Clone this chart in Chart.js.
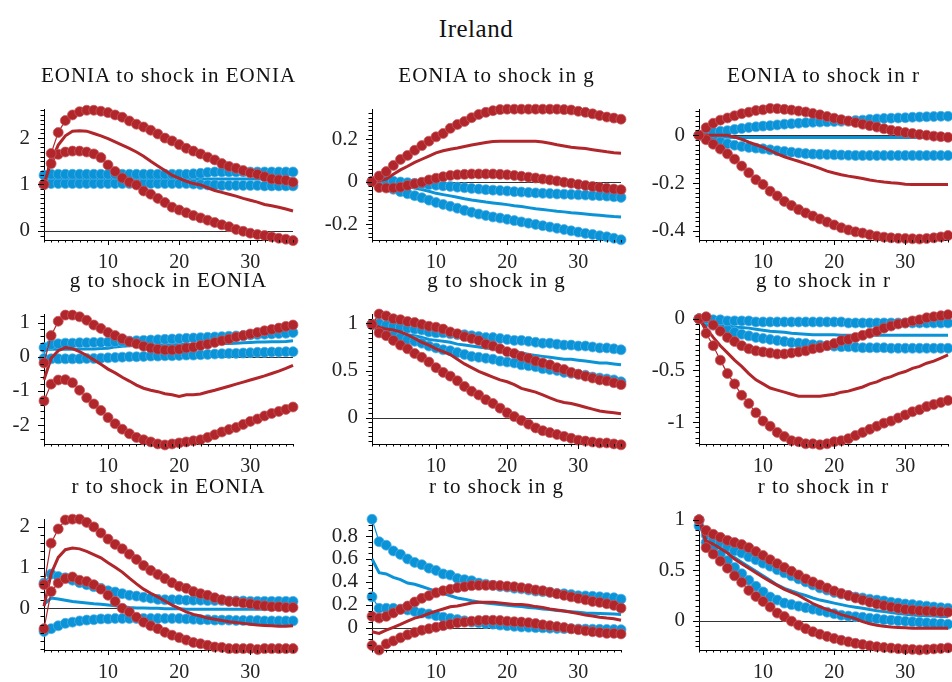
<!DOCTYPE html>
<html><head><meta charset="utf-8">
<script src="https://cdn.jsdelivr.net/npm/chart.js@4.4.1/dist/chart.umd.min.js"></script>
<style>
html,body{margin:0;padding:0;background:#fff;}
body{width:952px;height:682px;position:relative;overflow:hidden;font-family:'Liberation Serif',serif;color:#111;}
canvas{position:absolute;}
.ttl{position:absolute;width:320px;text-align:center;font-size:21px;line-height:26px;letter-spacing:1px;white-space:nowrap;z-index:2;}
#main{position:absolute;left:0;top:14px;width:952px;text-align:center;font-size:25px;line-height:30px;letter-spacing:0.5px;}
</style></head><body>
<div id="main">Ireland</div>
<script>
// ---------- data ----------
const horizon = [1,2,3,4,5,6,7,8,9,10,11,12,13,14,15,16,17,18,19,20,21,22,23,24,25,26,27,28,29,30,31,32,33,34,35,36];
const xTickLabels = [10,20,30];
const panelTitles = ['EONIA to shock in EONIA','EONIA to shock in g','EONIA to shock in r',
  'g to shock in EONIA','g to shock in g','g to shock in r',
  'r to shock in EONIA','r to shock in g','r to shock in r'];
const yTickLabels = [[0,1,2],[-0.2,0,0.2],[-0.4,-0.2,0],[-2,-1,0,1],[0,0.5,1],[-1,-0.5,0],[0,1,2],[0,0.2,0.4,0.6,0.8],[0,0.5,1]];

// EONIA to shock in EONIA
const eoEo_redHi  = [1.00,1.67,2.12,2.38,2.50,2.57,2.60,2.60,2.58,2.55,2.50,2.45,2.37,2.30,2.24,2.17,2.09,2.00,1.94,1.86,1.78,1.72,1.66,1.59,1.53,1.45,1.39,1.35,1.30,1.25,1.22,1.17,1.12,1.10,1.09,1.05];
const eoEo_redMed = [1.00,1.50,1.85,2.05,2.15,2.16,2.15,2.10,2.05,1.99,1.92,1.85,1.78,1.70,1.61,1.50,1.40,1.30,1.20,1.13,1.07,1.02,0.99,0.93,0.87,0.83,0.79,0.75,0.70,0.66,0.62,0.57,0.54,0.51,0.47,0.43];
const eoEo_redLo  = [1.00,1.45,1.65,1.70,1.72,1.72,1.70,1.66,1.58,1.42,1.28,1.14,1.05,0.99,0.86,0.79,0.70,0.61,0.51,0.45,0.39,0.33,0.28,0.23,0.18,0.13,0.09,0.03,-0.01,-0.05,-0.08,-0.10,-0.13,-0.16,-0.18,-0.21];
const eoEo_blueHi  = [1.20,1.22,1.22,1.22,1.22,1.22,1.22,1.22,1.22,1.22,1.22,1.22,1.22,1.22,1.22,1.22,1.22,1.22,1.22,1.22,1.22,1.23,1.24,1.26,1.27,1.27,1.27,1.27,1.27,1.27,1.27,1.27,1.27,1.27,1.27,1.27];
const eoEo_blueMed = [1.10,1.11,1.11,1.11,1.11,1.11,1.11,1.11,1.11,1.11,1.12,1.12,1.12,1.12,1.12,1.12,1.12,1.12,1.12,1.12,1.12,1.12,1.12,1.12,1.12,1.12,1.12,1.12,1.12,1.12,1.12,1.12,1.12,1.12,1.12,1.12];
const eoEo_blueLo  = [1.00,1.02,1.02,1.02,1.02,1.02,1.02,1.02,1.02,1.02,1.02,1.02,1.02,1.02,1.02,1.02,1.02,1.02,1.02,1.02,1.02,1.01,1.00,0.99,0.99,0.98,0.98,0.98,0.98,0.98,0.98,0.97,0.97,0.97,0.97,0.97];

// EONIA to shock in g
const eoG_redHi  = [0.000,0.026,0.047,0.076,0.104,0.123,0.147,0.169,0.190,0.210,0.226,0.250,0.268,0.282,0.300,0.315,0.325,0.333,0.338,0.340,0.340,0.340,0.340,0.340,0.340,0.340,0.340,0.338,0.336,0.330,0.325,0.318,0.310,0.303,0.298,0.293];
const eoG_redMed = [0.000,0.005,0.012,0.035,0.055,0.072,0.090,0.105,0.120,0.135,0.145,0.152,0.158,0.165,0.172,0.178,0.184,0.188,0.189,0.189,0.189,0.189,0.189,0.189,0.186,0.180,0.173,0.167,0.161,0.158,0.155,0.150,0.145,0.140,0.136,0.133];
const eoG_redLo  = [0.000,-0.028,-0.030,-0.030,-0.026,-0.018,-0.010,-0.003,0.008,0.016,0.023,0.029,0.032,0.034,0.036,0.036,0.036,0.036,0.034,0.032,0.029,0.025,0.021,0.017,0.012,0.008,0.003,-0.003,-0.008,-0.013,-0.018,-0.023,-0.027,-0.031,-0.035,-0.038];
const eoG_blueHi  = [0.000,0.004,0.005,0.002,-0.002,-0.005,-0.008,-0.011,-0.014,-0.017,-0.020,-0.023,-0.026,-0.029,-0.032,-0.035,-0.038,-0.040,-0.042,-0.044,-0.047,-0.049,-0.051,-0.053,-0.055,-0.056,-0.058,-0.059,-0.060,-0.062,-0.063,-0.065,-0.066,-0.068,-0.071,-0.074];
const eoG_blueMed = [0.000,-0.003,-0.008,-0.013,-0.018,-0.024,-0.030,-0.037,-0.045,-0.055,-0.061,-0.067,-0.073,-0.080,-0.086,-0.091,-0.096,-0.100,-0.104,-0.108,-0.113,-0.117,-0.122,-0.127,-0.131,-0.135,-0.139,-0.142,-0.146,-0.149,-0.152,-0.155,-0.158,-0.161,-0.164,-0.166];
const eoG_blueLo  = [0.000,-0.012,-0.024,-0.036,-0.047,-0.057,-0.066,-0.076,-0.087,-0.098,-0.107,-0.116,-0.125,-0.135,-0.144,-0.152,-0.159,-0.166,-0.171,-0.177,-0.183,-0.189,-0.195,-0.201,-0.207,-0.213,-0.219,-0.225,-0.231,-0.237,-0.243,-0.248,-0.254,-0.259,-0.266,-0.273];

// EONIA to shock in r
const eoR_redHi  = [0.000,0.031,0.050,0.063,0.072,0.081,0.090,0.096,0.103,0.106,0.112,0.111,0.108,0.105,0.101,0.097,0.091,0.085,0.078,0.071,0.065,0.059,0.053,0.046,0.040,0.034,0.027,0.021,0.016,0.011,0.007,0.003,0.000,-0.004,-0.006,-0.009];
const eoR_redMed = [0.000,0.000,0.000,0.000,0.000,-0.008,-0.017,-0.029,-0.040,-0.050,-0.064,-0.078,-0.090,-0.100,-0.109,-0.119,-0.128,-0.139,-0.150,-0.158,-0.165,-0.171,-0.176,-0.181,-0.187,-0.192,-0.196,-0.199,-0.201,-0.205,-0.206,-0.206,-0.206,-0.206,-0.206,-0.206];
const eoR_redLo  = [0.000,-0.019,-0.038,-0.058,-0.078,-0.100,-0.129,-0.157,-0.186,-0.206,-0.234,-0.254,-0.277,-0.294,-0.311,-0.325,-0.338,-0.350,-0.363,-0.375,-0.387,-0.396,-0.404,-0.409,-0.416,-0.422,-0.426,-0.429,-0.431,-0.432,-0.433,-0.434,-0.432,-0.429,-0.425,-0.419];
const eoR_blueHi  = [0.000,0.008,0.013,0.016,0.019,0.024,0.028,0.032,0.035,0.038,0.040,0.043,0.046,0.048,0.050,0.052,0.054,0.055,0.056,0.057,0.058,0.059,0.061,0.063,0.066,0.068,0.070,0.071,0.072,0.073,0.075,0.076,0.077,0.078,0.079,0.079];
const eoR_blueMed = [0.000,-0.003,-0.005,-0.007,-0.009,-0.010,-0.010,-0.010,-0.010,-0.010,-0.010,-0.010,-0.010,-0.010,-0.010,-0.010,-0.010,-0.010,-0.010,-0.010,-0.010,-0.010,-0.010,-0.010,-0.010,-0.010,-0.010,-0.010,-0.010,-0.010,-0.010,-0.010,-0.010,-0.010,-0.010,-0.010];
const eoR_blueLo  = [0.000,-0.010,-0.019,-0.028,-0.036,-0.042,-0.047,-0.051,-0.054,-0.057,-0.061,-0.065,-0.068,-0.071,-0.074,-0.077,-0.079,-0.080,-0.081,-0.082,-0.083,-0.084,-0.085,-0.085,-0.085,-0.085,-0.085,-0.085,-0.085,-0.085,-0.085,-0.085,-0.085,-0.085,-0.085,-0.085];

// g to shock in EONIA
const gEo_redHi  = [-0.18,0.62,1.04,1.22,1.22,1.17,1.07,0.93,0.83,0.71,0.62,0.53,0.44,0.38,0.31,0.26,0.22,0.20,0.20,0.22,0.26,0.28,0.33,0.37,0.42,0.47,0.52,0.58,0.62,0.67,0.71,0.76,0.80,0.84,0.89,0.93];
const gEo_redMed = [-0.67,-0.04,0.18,0.27,0.24,0.15,0.04,-0.09,-0.22,-0.36,-0.47,-0.60,-0.71,-0.83,-0.92,-0.98,-1.02,-1.08,-1.11,-1.16,-1.11,-1.11,-1.09,-1.03,-0.98,-0.92,-0.86,-0.80,-0.74,-0.68,-0.62,-0.56,-0.49,-0.42,-0.34,-0.25];
const gEo_redLo  = [-1.29,-0.80,-0.68,-0.67,-0.76,-0.98,-1.20,-1.38,-1.57,-1.78,-1.96,-2.12,-2.25,-2.36,-2.43,-2.49,-2.55,-2.58,-2.55,-2.52,-2.49,-2.46,-2.43,-2.36,-2.28,-2.20,-2.13,-2.07,-1.98,-1.89,-1.82,-1.73,-1.66,-1.60,-1.54,-1.47];
const gEo_blueHi  = [0.27,0.36,0.38,0.40,0.40,0.41,0.41,0.42,0.42,0.43,0.44,0.45,0.46,0.47,0.48,0.49,0.50,0.51,0.52,0.53,0.54,0.55,0.56,0.57,0.58,0.59,0.60,0.61,0.62,0.64,0.65,0.66,0.67,0.68,0.69,0.71];
const gEo_blueMed = [0.21,0.22,0.22,0.22,0.22,0.23,0.23,0.23,0.24,0.25,0.29,0.31,0.32,0.33,0.33,0.34,0.34,0.35,0.35,0.36,0.36,0.37,0.37,0.38,0.38,0.39,0.39,0.40,0.41,0.42,0.43,0.43,0.44,0.44,0.45,0.47];
const gEo_blueLo  = [-0.05,-0.06,-0.06,-0.06,-0.06,-0.06,-0.05,-0.05,-0.04,-0.03,-0.02,-0.01,0.00,0.00,0.01,0.02,0.02,0.03,0.03,0.04,0.05,0.05,0.06,0.07,0.08,0.09,0.10,0.10,0.11,0.12,0.13,0.13,0.14,0.14,0.15,0.15];

// g to shock in g
const gG_redHi  = [0.99,1.10,1.08,1.05,1.04,1.02,1.01,0.99,0.97,0.96,0.94,0.91,0.89,0.86,0.84,0.82,0.78,0.76,0.73,0.70,0.68,0.65,0.63,0.60,0.58,0.56,0.53,0.51,0.48,0.46,0.44,0.42,0.40,0.39,0.37,0.35];
const gG_redMed = [0.99,0.96,0.94,0.93,0.91,0.88,0.84,0.80,0.77,0.73,0.70,0.67,0.62,0.57,0.53,0.49,0.46,0.43,0.40,0.38,0.35,0.31,0.29,0.27,0.24,0.21,0.18,0.16,0.15,0.13,0.11,0.09,0.07,0.06,0.05,0.04];
const gG_redLo  = [0.99,0.90,0.87,0.82,0.77,0.73,0.68,0.64,0.59,0.53,0.48,0.44,0.39,0.33,0.28,0.24,0.19,0.15,0.10,0.05,0.01,-0.03,-0.07,-0.11,-0.14,-0.16,-0.18,-0.20,-0.22,-0.24,-0.25,-0.26,-0.27,-0.27,-0.28,-0.29];
const gG_blueHi  = [0.99,1.00,0.98,0.97,0.96,0.95,0.94,0.93,0.91,0.90,0.90,0.89,0.88,0.88,0.87,0.86,0.85,0.85,0.84,0.83,0.82,0.82,0.81,0.80,0.79,0.79,0.78,0.77,0.77,0.76,0.76,0.75,0.74,0.74,0.73,0.72];
const gG_blueMed = [0.99,0.97,0.95,0.92,0.90,0.88,0.87,0.85,0.83,0.82,0.81,0.80,0.78,0.77,0.76,0.75,0.74,0.73,0.72,0.71,0.70,0.69,0.67,0.66,0.65,0.64,0.63,0.62,0.62,0.61,0.60,0.59,0.58,0.58,0.57,0.56];
const gG_blueLo  = [0.99,0.95,0.90,0.87,0.85,0.83,0.81,0.79,0.76,0.74,0.72,0.71,0.69,0.67,0.65,0.64,0.63,0.62,0.60,0.59,0.58,0.56,0.55,0.54,0.52,0.51,0.50,0.48,0.47,0.46,0.45,0.43,0.42,0.41,0.40,0.38];

// g to shock in r
const gR_redHi  = [0.00,0.02,-0.06,-0.12,-0.18,-0.22,-0.26,-0.29,-0.31,-0.32,-0.33,-0.34,-0.34,-0.33,-0.32,-0.31,-0.29,-0.28,-0.26,-0.24,-0.21,-0.20,-0.18,-0.16,-0.14,-0.12,-0.09,-0.07,-0.05,-0.04,-0.02,-0.01,0.01,0.02,0.03,0.04];
const gR_redMed = [0.00,-0.09,-0.18,-0.26,-0.33,-0.40,-0.46,-0.53,-0.59,-0.63,-0.67,-0.69,-0.71,-0.73,-0.75,-0.75,-0.75,-0.75,-0.74,-0.73,-0.71,-0.70,-0.68,-0.66,-0.63,-0.61,-0.58,-0.56,-0.53,-0.51,-0.48,-0.46,-0.43,-0.41,-0.38,-0.35];
const gR_redLo  = [0.00,-0.14,-0.26,-0.40,-0.53,-0.63,-0.74,-0.82,-0.91,-0.99,-1.04,-1.10,-1.14,-1.18,-1.19,-1.21,-1.21,-1.22,-1.21,-1.19,-1.18,-1.16,-1.13,-1.10,-1.07,-1.04,-1.01,-0.99,-0.96,-0.93,-0.90,-0.88,-0.85,-0.83,-0.81,-0.79];
const gR_blueHi  = [0.00,0.00,-0.01,-0.01,-0.02,-0.02,-0.02,-0.02,-0.03,-0.03,-0.03,-0.03,-0.03,-0.03,-0.03,-0.03,-0.03,-0.03,-0.03,-0.03,-0.03,-0.04,-0.04,-0.04,-0.04,-0.04,-0.04,-0.04,-0.04,-0.04,-0.04,-0.04,-0.04,-0.04,-0.04,-0.04];
const gR_blueMed = [0.00,-0.02,-0.045,-0.06,-0.07,-0.08,-0.085,-0.09,-0.10,-0.11,-0.12,-0.125,-0.13,-0.14,-0.145,-0.15,-0.155,-0.155,-0.155,-0.155,-0.16,-0.16,-0.16,-0.16,-0.16,-0.16,-0.16,-0.16,-0.16,-0.16,-0.16,-0.16,-0.16,-0.16,-0.16,-0.16];
const gR_blueLo  = [0.00,-0.03,-0.06,-0.09,-0.11,-0.13,-0.15,-0.165,-0.18,-0.19,-0.20,-0.21,-0.22,-0.23,-0.235,-0.24,-0.25,-0.255,-0.26,-0.265,-0.27,-0.27,-0.275,-0.28,-0.28,-0.28,-0.28,-0.285,-0.285,-0.285,-0.285,-0.285,-0.285,-0.285,-0.285,-0.285];

// r to shock in EONIA
const rEo_redHi  = [0.58,1.60,1.95,2.17,2.19,2.19,2.11,2.00,1.85,1.70,1.57,1.46,1.33,1.20,1.05,0.93,0.83,0.73,0.63,0.54,0.49,0.41,0.36,0.32,0.26,0.21,0.17,0.16,0.13,0.11,0.08,0.06,0.04,0.04,0.02,0.02];
const rEo_redMed = [0.05,0.85,1.25,1.44,1.48,1.46,1.40,1.32,1.24,1.12,1.01,0.89,0.74,0.60,0.47,0.37,0.28,0.18,0.08,0.00,-0.09,-0.15,-0.19,-0.24,-0.27,-0.30,-0.33,-0.35,-0.37,-0.39,-0.41,-0.42,-0.43,-0.44,-0.44,-0.43];
const rEo_redLo  = [-0.50,0.41,0.62,0.73,0.77,0.69,0.66,0.58,0.47,0.32,0.17,0.00,-0.09,-0.22,-0.34,-0.43,-0.50,-0.59,-0.66,-0.72,-0.78,-0.84,-0.87,-0.91,-0.95,-0.96,-0.99,-0.99,-0.99,-0.99,-1.01,-0.99,-0.99,-0.99,-0.99,-0.99];
const rEo_blueHi  = [0.62,0.84,0.78,0.75,0.69,0.63,0.58,0.53,0.49,0.43,0.40,0.36,0.32,0.30,0.27,0.25,0.22,0.21,0.21,0.21,0.20,0.20,0.20,0.19,0.19,0.19,0.18,0.18,0.18,0.17,0.17,0.17,0.17,0.17,0.17,0.17];
const rEo_blueMed = [0.10,0.25,0.23,0.20,0.17,0.15,0.13,0.11,0.10,0.08,0.06,0.04,0.02,0.01,0.01,0.00,0.00,-0.01,-0.01,-0.01,-0.02,-0.02,-0.02,-0.02,-0.02,-0.02,-0.02,-0.02,-0.02,-0.02,-0.02,-0.02,-0.02,-0.02,-0.02,-0.02];
const rEo_blueLo  = [-0.57,-0.50,-0.43,-0.37,-0.34,-0.31,-0.29,-0.28,-0.26,-0.26,-0.25,-0.25,-0.25,-0.25,-0.25,-0.25,-0.25,-0.25,-0.25,-0.25,-0.26,-0.27,-0.28,-0.28,-0.29,-0.29,-0.29,-0.30,-0.30,-0.30,-0.30,-0.31,-0.31,-0.31,-0.31,-0.31];

// r to shock in g
const rG_redHi  = [0.100,0.085,0.100,0.130,0.160,0.190,0.225,0.257,0.280,0.305,0.323,0.336,0.350,0.358,0.368,0.370,0.370,0.370,0.368,0.363,0.358,0.350,0.342,0.330,0.323,0.310,0.297,0.283,0.270,0.257,0.244,0.230,0.222,0.210,0.196,0.172];
const rG_redMed = [-0.034,-0.048,-0.020,0.005,0.030,0.058,0.085,0.100,0.125,0.146,0.164,0.183,0.190,0.204,0.217,0.222,0.222,0.222,0.217,0.210,0.204,0.204,0.196,0.185,0.177,0.164,0.156,0.146,0.135,0.125,0.111,0.103,0.093,0.085,0.080,0.066];
const rG_redLo  = [-0.154,-0.193,-0.140,-0.114,-0.087,-0.061,-0.040,-0.021,-0.008,0.005,0.019,0.032,0.045,0.050,0.058,0.064,0.066,0.066,0.064,0.058,0.053,0.050,0.045,0.037,0.026,0.019,0.011,0.003,-0.008,-0.016,-0.026,-0.034,-0.040,-0.048,-0.048,-0.053];
const rG_blueHi  = [0.946,0.750,0.720,0.670,0.640,0.600,0.570,0.550,0.520,0.500,0.470,0.460,0.430,0.420,0.410,0.390,0.380,0.370,0.360,0.355,0.345,0.340,0.330,0.320,0.315,0.310,0.300,0.297,0.290,0.280,0.278,0.275,0.270,0.265,0.262,0.250];
const rG_blueMed = [0.600,0.480,0.470,0.440,0.420,0.390,0.380,0.360,0.340,0.320,0.300,0.280,0.260,0.250,0.236,0.225,0.217,0.210,0.204,0.196,0.190,0.185,0.177,0.172,0.164,0.159,0.151,0.146,0.140,0.135,0.130,0.127,0.125,0.122,0.120,0.117];
const rG_blueLo  = [0.270,0.170,0.170,0.170,0.164,0.156,0.143,0.130,0.120,0.106,0.093,0.082,0.072,0.061,0.050,0.045,0.037,0.032,0.024,0.019,0.013,0.008,0.005,0.002,0.000,-0.003,-0.005,-0.007,-0.008,-0.010,-0.011,-0.012,-0.013,-0.014,-0.015,-0.016];

// r to shock in r
const rR_redHi  = [1.000,0.895,0.856,0.826,0.796,0.775,0.754,0.724,0.685,0.646,0.604,0.565,0.526,0.490,0.453,0.414,0.384,0.354,0.324,0.294,0.270,0.249,0.225,0.204,0.183,0.165,0.150,0.135,0.123,0.111,0.105,0.099,0.096,0.090,0.087,0.084];
const rR_redMed = [1.000,0.790,0.760,0.715,0.670,0.610,0.565,0.520,0.474,0.430,0.390,0.350,0.310,0.280,0.250,0.210,0.170,0.140,0.110,0.090,0.060,0.040,0.020,-0.010,-0.030,-0.045,-0.055,-0.062,-0.067,-0.071,-0.075,-0.075,-0.075,-0.075,-0.075,-0.075];
const rR_redLo  = [1.000,0.724,0.660,0.590,0.520,0.444,0.380,0.300,0.240,0.190,0.135,0.075,0.040,-0.005,-0.045,-0.080,-0.110,-0.135,-0.156,-0.177,-0.195,-0.210,-0.225,-0.237,-0.249,-0.258,-0.266,-0.272,-0.278,-0.283,-0.285,-0.290,-0.285,-0.280,-0.276,-0.270];
const rR_blueHi  = [1.000,0.850,0.805,0.775,0.736,0.694,0.670,0.634,0.604,0.570,0.540,0.505,0.474,0.444,0.414,0.384,0.354,0.324,0.303,0.279,0.264,0.249,0.234,0.225,0.213,0.204,0.195,0.183,0.174,0.165,0.159,0.150,0.144,0.135,0.129,0.123];
const rR_blueMed = [0.970,0.820,0.780,0.730,0.680,0.625,0.580,0.535,0.490,0.444,0.400,0.354,0.320,0.294,0.270,0.249,0.225,0.204,0.190,0.174,0.159,0.144,0.133,0.123,0.110,0.099,0.090,0.081,0.072,0.063,0.057,0.051,0.048,0.045,0.042,0.039];
const rR_blueLo  = [0.940,0.775,0.715,0.655,0.595,0.526,0.465,0.400,0.340,0.285,0.234,0.204,0.174,0.159,0.144,0.129,0.114,0.099,0.084,0.069,0.054,0.045,0.039,0.033,0.024,0.018,0.009,0.005,0.000,-0.006,-0.011,-0.016,-0.021,-0.026,-0.031,-0.036];

// ---------- layout / style ----------
const RED = '#B0262B', BLUE = '#0A93D7';
const RED_EDGE = 'rgba(200,90,95,0.75)', BLUE_EDGE = 'rgba(80,175,230,0.75)';
const colLeft = [44, 372, 699];
const rowTop = [97, 302, 507], rowBottom = [240, 444, 650];
const rowTitleY = [75, 280, 486];
const PLOT_W = 249;
const yRanges = [[-0.197,2.615],[-0.274,0.338],[-0.438,0.107],[-2.552,1.235],[-0.281,1.094],[-1.212,0.041],[-1.024,2.179],[-0.193,0.943],[-0.291,1.002]];
const yMinorStep = [0.1,0.02,0.02,0.2,0.05,0.05,0.2,0.05,0.05];

const panelSeries = [
  [eoEo_redHi,eoEo_redMed,eoEo_redLo,eoEo_blueHi,eoEo_blueMed,eoEo_blueLo],
  [eoG_redHi,eoG_redMed,eoG_redLo,eoG_blueHi,eoG_blueMed,eoG_blueLo],
  [eoR_redHi,eoR_redMed,eoR_redLo,eoR_blueHi,eoR_blueMed,eoR_blueLo],
  [gEo_redHi,gEo_redMed,gEo_redLo,gEo_blueHi,gEo_blueMed,gEo_blueLo],
  [gG_redHi,gG_redMed,gG_redLo,gG_blueHi,gG_blueMed,gG_blueLo],
  [gR_redHi,gR_redMed,gR_redLo,gR_blueHi,gR_blueMed,gR_blueLo],
  [rEo_redHi,rEo_redMed,rEo_redLo,rEo_blueHi,rEo_blueMed,rEo_blueLo],
  [rG_redHi,rG_redMed,rG_redLo,rG_blueHi,rG_blueMed,rG_blueLo],
  [rR_redHi,rR_redMed,rR_redLo,rR_blueHi,rR_blueMed,rR_blueLo]
];

Chart.defaults.font.family = "'Liberation Serif', serif";

const irfAxes = {
  id: 'irfAxes',
  beforeDatasetsDraw(chart, args, o) {
    const {ctx, scales: {x, y}} = chart;
    const py = Math.round(y.getPixelForValue(0)) + 0.5;
    ctx.save();
    ctx.strokeStyle = '#333'; ctx.lineWidth = 1;
    ctx.beginPath();
    ctx.moveTo(x.getPixelForValue(horizon[0]), py);
    ctx.lineTo(x.getPixelForValue(horizon[horizon.length - 1]), py);
    ctx.stroke();
    ctx.restore();
  },
  afterDraw(chart, args, o) {
    const {ctx, scales: {x, y}} = chart;
    ctx.save();
    ctx.strokeStyle = '#000'; ctx.lineWidth = 1;
    ctx.beginPath();
    const step = o.yStep;
    const k0 = Math.ceil(y.min / step - 1e-6), k1 = Math.floor(y.max / step + 1e-6);
    for (let k = k0; k <= k1; k++) {
      const v = k * step;
      const py = Math.round(y.getPixelForValue(v)) + 0.5;
      const major = o.yMajor.some(m => Math.abs(m - v) < step / 10);
      const len = major ? 6 : 3.5;
      ctx.moveTo(x.left - len, py); ctx.lineTo(x.left, py);
    }
    for (const h of horizon) {
      const px = Math.round(x.getPixelForValue(h)) + 0.5;
      const len = xTickLabels.includes(h) ? 5 : 2.5;
      ctx.moveTo(px, y.bottom); ctx.lineTo(px, y.bottom + len);
    }
    ctx.stroke();
    ctx.restore();
  }
};

function band(data, color, edge) {
  return {data: horizon.map((h, i) => ({x: h, y: data[i]})), borderColor: color, backgroundColor: color,
    borderWidth: 1.2, pointRadius: 5, pointBorderWidth: 1, pointBorderColor: edge, pointHoverRadius: 0,
    pointBackgroundColor: color, clip: false, tension: 0};
}
function median(data, color) {
  return {data: horizon.map((h, i) => ({x: h, y: data[i]})), borderColor: color,
    borderWidth: 3, pointRadius: 0, pointHoverRadius: 0, clip: false, tension: 0};
}

for (let p = 0; p < 9; p++) {
  const r = Math.floor(p / 3), c = p % 3;
  const L = colLeft[c], T = rowTop[r], B = rowBottom[r];
  const cv = document.createElement('canvas');
  const W = 60 + PLOT_W + 14, H = 14 + (B - T) + 40;
  cv.width = W; cv.height = H;
  cv.style.left = (L - 60) + 'px'; cv.style.top = (T - 14) + 'px';
  cv.style.width = W + 'px'; cv.style.height = H + 'px';
  document.body.appendChild(cv);

  const t = document.createElement('div');
  t.className = 'ttl';
  t.textContent = panelTitles[p];
  t.style.left = (L + PLOT_W / 2 - 160) + 'px';
  t.style.top = (rowTitleY[r] - 13) + 'px';
  document.body.appendChild(t);

  const s = panelSeries[p];
  const majors = yTickLabels[p];
  new Chart(cv, {
    type: 'line',
    data: {datasets: [band(s[0], RED, RED_EDGE), band(s[2], RED, RED_EDGE), median(s[1], RED),
                      band(s[3], BLUE, BLUE_EDGE), band(s[5], BLUE, BLUE_EDGE), median(s[4], BLUE)]},
    plugins: [irfAxes],
    options: {
      responsive: false, animation: false, devicePixelRatio: 1, events: [],
      layout: {padding: {left: 0, right: 14, top: 14, bottom: 0}},
      plugins: {legend: {display: false}, tooltip: {enabled: false}, title: {display: false},
        irfAxes: {yStep: yMinorStep[p], yMajor: majors}},
      scales: {
        x: {type: 'linear', min: horizon[0], max: horizon[horizon.length - 1],
          afterFit: sc => { sc.height = 40; },
          afterBuildTicks: sc => { sc.ticks = xTickLabels.map(v => ({value: v})); },
          grid: {display: false, drawTicks: false, tickLength: 0},
          border: {display: true, color: '#000', width: 1},
          ticks: {padding: 11, font: {size: 20}, color: '#222', maxRotation: 0, autoSkip: false, callback: v => String(v)}},
        y: {type: 'linear', min: yRanges[p][0], max: yRanges[p][1],
          afterFit: sc => { sc.width = 60; },
          afterBuildTicks: sc => { sc.ticks = majors.map(v => ({value: v})); },
          grid: {display: false, drawTicks: false, tickLength: 0},
          border: {display: true, color: '#000', width: 1},
          ticks: {padding: 14, font: {size: 21}, color: '#222', autoSkip: false, callback: v => String(v)}}
      }
    }
  });
}
</script>
</body></html>
